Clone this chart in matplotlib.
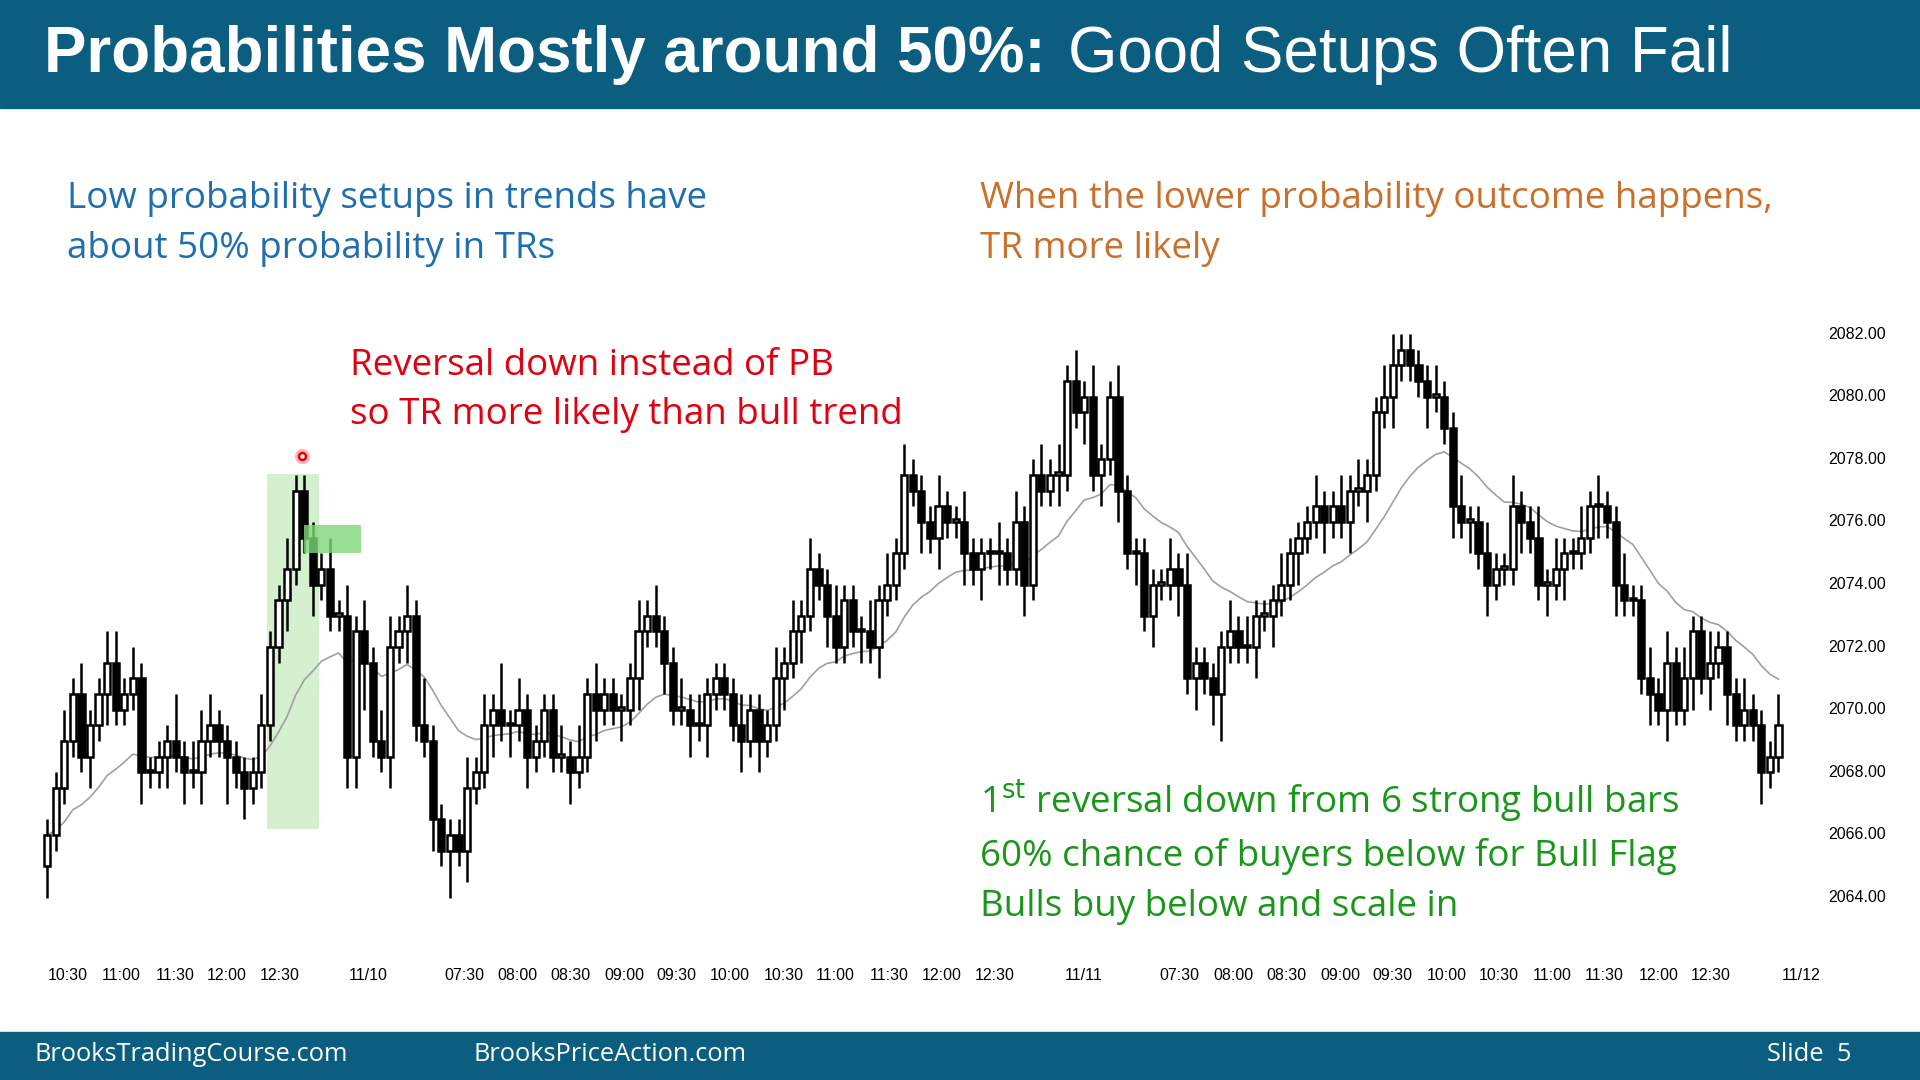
import matplotlib
matplotlib.use("Agg")
import matplotlib.pyplot as plt
from matplotlib.patches import Rectangle
import numpy as np

closes = [2066.0, 2067.5, 2069.0, 2070.5, 2068.5, 2069.5, 2070.5, 2071.5, 2070.0, 2070.5,
          2071.0, 2068.0, 2068.0, 2068.5, 2069.0, 2068.5, 2068.0, 2068.0, 2069.0, 2069.5,
          2069.0, 2068.5, 2068.0, 2067.5, 2068.0, 2069.5, 2072.0, 2073.5, 2074.5, 2077.0,
          2075.5, 2074.0, 2074.5, 2073.0, 2073.0, 2068.5, 2072.5, 2071.5, 2069.0, 2068.5,
          2072.0, 2072.5, 2073.0, 2069.5, 2069.0, 2066.5, 2065.5, 2066.0, 2065.5, 2067.5,
          2068.0, 2069.5, 2070.0, 2069.5, 2069.5, 2070.0, 2068.5, 2069.0, 2070.0, 2068.5,
          2068.5, 2068.0, 2068.5, 2070.5, 2070.0, 2070.5, 2070.0, 2070.0, 2071.0, 2072.5,
          2073.0, 2072.5, 2071.5, 2070.0, 2070.0, 2069.5, 2069.5, 2070.5, 2071.0, 2070.5,
          2069.5, 2069.0, 2070.0, 2069.0, 2069.5, 2071.0, 2071.5, 2072.5, 2073.0, 2074.5,
          2074.0, 2073.0, 2072.0, 2073.5, 2072.5, 2072.5, 2072.0, 2073.5, 2074.0, 2075.0,
          2077.5, 2077.0, 2076.0, 2075.5, 2076.5, 2076.0, 2076.0, 2075.0, 2074.5, 2075.0,
          2075.0, 2075.0, 2074.5, 2076.0, 2074.0, 2077.5, 2077.0, 2077.5, 2077.5, 2080.5,
          2079.5, 2080.0, 2077.5, 2078.0, 2080.0, 2077.0, 2075.0, 2075.0, 2073.0, 2074.0,
          2074.0, 2074.5, 2074.0, 2071.0, 2071.5, 2071.0, 2070.5, 2072.0, 2072.5, 2072.0,
          2072.0, 2073.0, 2073.0, 2073.5, 2074.0, 2075.0, 2075.5, 2076.0, 2076.5, 2076.0,
          2076.5, 2076.0, 2077.0, 2077.0, 2077.5, 2079.5, 2080.0, 2081.0, 2081.5, 2081.0,
          2080.5, 2080.0, 2080.0, 2079.0, 2076.5, 2076.0, 2076.0, 2075.0, 2074.0, 2074.5,
          2074.5, 2076.5, 2076.0, 2075.5, 2074.0, 2074.0, 2074.5, 2075.0, 2075.0, 2075.5,
          2076.5, 2076.5, 2076.0, 2074.0, 2073.5, 2073.5, 2071.0, 2070.5, 2070.0, 2071.5,
          2070.0, 2071.0, 2072.5, 2071.0, 2071.5, 2072.0, 2070.5, 2069.5, 2070.0, 2069.5,
          2068.0, 2068.5, 2069.5]
first_open = 2065.0
# wick lengths in half points (upper / lower), one digit per bar
upper_wick = ("1121211221" "2111131222" "1111121121" "1112121212" "2121311112"
              "1213121111" "2121211112" "1211212111" "1211121212" "1121112121"
              "2111211211" "1212112121" "2121121111" "1212111121" "2111211121"
              "1212112211" "1121121121" "1211212112" "1211211212" "1211211121" "112")
lower_wick = ("2111121211" "1211212121" "1312111121" "1211122311" "2121121312"
              "1121212111" "1211211212" "1121121211" "1212112121" "1211121211"
              "1121211212" "1211211121" "1212121212" "1121212311" "1212112112"
              "1121211211" "1211212121" "1121121211" "1212111212" "1121212111" "211")

tick_labels = ["10:30", "11:00", "11:30", "12:00", "12:30", "11/10", "07:30", "08:00", "08:30",
               "09:00", "09:30", "10:00", "10:30", "11:00", "11:30", "12:00", "12:30", "11/11",
               "07:30", "08:00", "08:30", "09:00", "09:30", "10:00", "10:30", "11:00", "11:30",
               "12:00", "12:30", "11/12"]
tick_bars = [2.4, 8.6, 14.9, 21.0, 27.1, 37.4, 48.7, 54.9, 61.1, 67.3, 73.4, 79.7, 85.9, 92.0,
             98.3, 104.4, 110.6, 120.9, 132.1, 138.4, 144.6, 150.9, 157.0, 163.3, 169.4, 175.6,
             181.7, 188.0, 194.1, 204.6]
price_ticks = [2064, 2066, 2068, 2070, 2072, 2074, 2076, 2078, 2080, 2082]

n = len(closes)
opens = [first_open] + closes[:-1]
highs, lows = [], []
for i in range(n):
    u = int(upper_wick[i]) * 0.5 if i < len(upper_wick) else 0.5
    d = int(lower_wick[i]) * 0.5 if i < len(lower_wick) else 0.5
    highs.append(max(opens[i], closes[i]) + u)
    lows.append(min(opens[i], closes[i]) - d)

fig = plt.figure(figsize=(19.2, 10.8), dpi=100)
fig.patch.set_facecolor("white")
teal = "#0B5E80"
fig.patches.append(Rectangle((0, 1 - 88/882), 1, 88/882, transform=fig.transFigure, color=teal, zorder=0))
fig.patches.append(Rectangle((0, 0), 1, 39/882, transform=fig.transFigure, color=teal, zorder=0))
fig.text(36/1568, 1 - 45/882, "Probabilities Mostly around 50%:", color="white", fontsize=45.8,
         fontweight="bold", family="Liberation Sans", va="center")
fig.text(872/1568, 1 - 45/882, "Good Setups Often Fail", color="white", fontsize=45.8,
         family="Liberation Sans", va="center")
fig.text(28/1568, 21/882, "BrooksTradingCourse.com", color="white", fontsize=18.3, family="Open Sans", va="center")
fig.text(387/1568, 21/882, "BrooksPriceAction.com", color="white", fontsize=18.3, family="Open Sans", va="center")
fig.text(1512/1568, 21/882, "Slide  5", color="white", fontsize=18.3, family="Open Sans", va="center", ha="right")

tf = dict(fontsize=26.5, family="Open Sans", va="top", linespacing=1.5)
fig.text(55/1568, 1 - 148/882, "Low probability setups in trends have\nabout 50% probability in TRs", color="#1F6FB0", **tf)
fig.text(800/1568, 1 - 148/882, "When the lower probability outcome happens,\nTR more likely", color="#C9702C", **tf)
fig.text(286/1568, 1 - 284/882, "Reversal down instead of PB\nso TR more likely than bull trend", color="#E00010", **tf)
fig.text(800/1568, 1 - 635/882, "1$^{\\rm st}$ reversal down from 6 strong bull bars\n60% chance of buyers below for Bull Flag\nBulls buy below and scale in", color="#1A961A", **tf)

ax = fig.add_axes([35/1568, 1 - 745/882, 1430/1568, 490/882])
ax.set_xlim(-0.5, 203.8)
ax.set_ylim(2063.53, 2082.7)
ax.axis("off")

ax.add_patch(Rectangle((25.6, 2066.19), 6.1, 11.35, color="#B8E6B0", alpha=0.6, lw=0, zorder=0))
ax.add_patch(Rectangle((30.0, 2075.0), 6.6, 0.9, color="#7ED87A", alpha=0.8, lw=0, zorder=3))

for i in range(n):
    o, c = opens[i], closes[i]
    ax.plot([i, i], [lows[i], highs[i]], color="black", lw=1.8, zorder=2, solid_capstyle="butt")
    bull = c >= o
    ax.add_patch(Rectangle((i - 0.36, min(o, c)), 0.72, max(abs(c - o), 0.08),
                           facecolor="white" if bull else "black", edgecolor="black", lw=1.8, zorder=2))

ema = []
k = 2 / 21
e = closes[0]
for c in closes:
    e = e + k * (c - e)
    ema.append(e)
ax.plot(range(n), ema, color="#A0A0A0", lw=1.2, zorder=1)

ax.plot([29.7], [2078.1], "o", ms=11, mfc="#FF9999", mec="none", alpha=0.7, zorder=5)
ax.plot([29.7], [2078.1], "o", ms=5, mfc="white", mec="#E00010", mew=1.8, zorder=6)

for p in price_ticks:
    ax.text(1.0 + 28/1430, p, f"{p:.2f}", transform=ax.get_yaxis_transform(), fontsize=11.5,
            family="Liberation Sans", va="center", ha="left", clip_on=False)
for b, lab in zip(tick_bars, tick_labels):
    ax.text(b, 2063.53 - (797 - 745) / 25.56, lab, fontsize=11.5, family="Liberation Sans",
            ha="center", va="center", clip_on=False)

fig.savefig("out.png", dpi=100)
